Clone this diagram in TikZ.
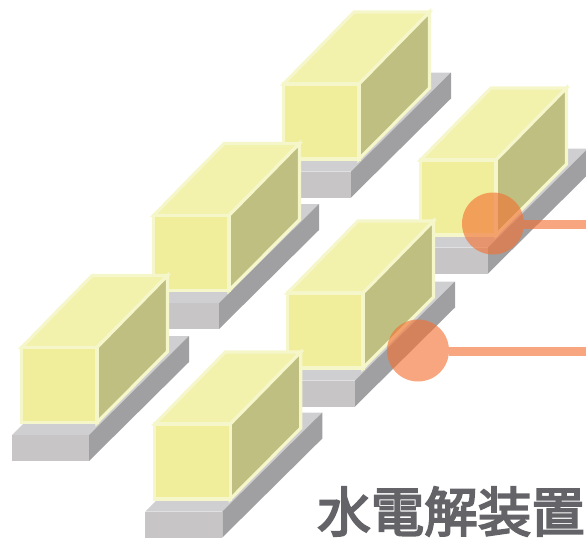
\documentclass[tikz,border=0pt]{standalone}
\usepackage{fontspec}
\newfontfamily\cjkjp[FakeBold=3.5]{Noto Sans CJK JP}
\definecolor{plateTop}{RGB}{207,207,210}
\definecolor{plateFront}{RGB}{199,197,197}
\definecolor{plateSide}{RGB}{160,160,162}
\definecolor{boxEdge}{RGB}{246,246,203}
\definecolor{boxFront}{RGB}{240,238,155}
\definecolor{boxTop}{RGB}{242,242,172}
\definecolor{boxSide}{RGB}{190,191,128}
\definecolor{probe}{RGB}{243,112,50}
\definecolor{labelGrey}{RGB}{100,100,104}
\tikzset{
  boxface/.style={draw=boxEdge,line width=3.2pt,line join=miter},
  probecircle/.style={circle,fill=probe,fill opacity=.62,minimum size=62pt,inner sep=0pt,outer sep=0pt},
  probeline/.style={draw=probe,draw opacity=.62,line width=9.5pt},
}
% #1,#2: outer top-left corner of the front face; #3: horizontal shift of the plate
\newcommand{\electrolyser}[3]{%
  \begin{scope}[shift={(#1,#2)}]
    \begin{scope}[shift={(#3,0)}]
      \fill[plateTop] (-8,89) -- (69,89) -- (169,-10) -- (92,-10) -- cycle;
      \fill[plateFront] (-8,89) rectangle (69,115);
      \fill[plateSide] (69,89) -- (169,-10) -- (169,16) -- (69,115) -- cycle;
    \end{scope}
    \filldraw[boxface,fill=boxTop] (1.5,1.5) -- (72,-70.5) -- (147.5,-70.5) -- (77,1.5) -- cycle;
    \filldraw[boxface,fill=boxSide] (77,1.5) -- (147.5,-70.5) -- (147.5,5.5) -- (77,76.5) -- cycle;
    \filldraw[boxface,fill=boxFront] (1.5,1.5) rectangle (77,76.5);
  \end{scope}}
\begin{document}
\begin{tikzpicture}[x=1pt,y=-1pt]
  \useasboundingbox (0,0) rectangle (586,538);
  \electrolyser{282}{82.5}{0}
  \electrolyser{419}{158.5}{0}
  \electrolyser{152}{214}{-2}
  \electrolyser{286}{291.5}{0}
  \electrolyser{20}{346}{0}
  \electrolyser{153.3}{422.5}{0}
  \node[probecircle] (probeA) at (493,223.5) {};
  \node[probecircle] (probeB) at (418,350.5) {};
  \coordinate (endA) at (586,224.5);
  \coordinate (endB) at (586,351.5);
  \draw[probeline] (probeA.east |- endA) -- (endA);
  \draw[probeline] (probeB.east |- endB) -- (endB);
  \node[text=labelGrey,inner sep=0pt,anchor=center] (title) at (451,511.5)
    {\cjkjp\fontsize{53.5pt}{54pt}\selectfont 水電解装置};
\end{tikzpicture}
\end{document}
